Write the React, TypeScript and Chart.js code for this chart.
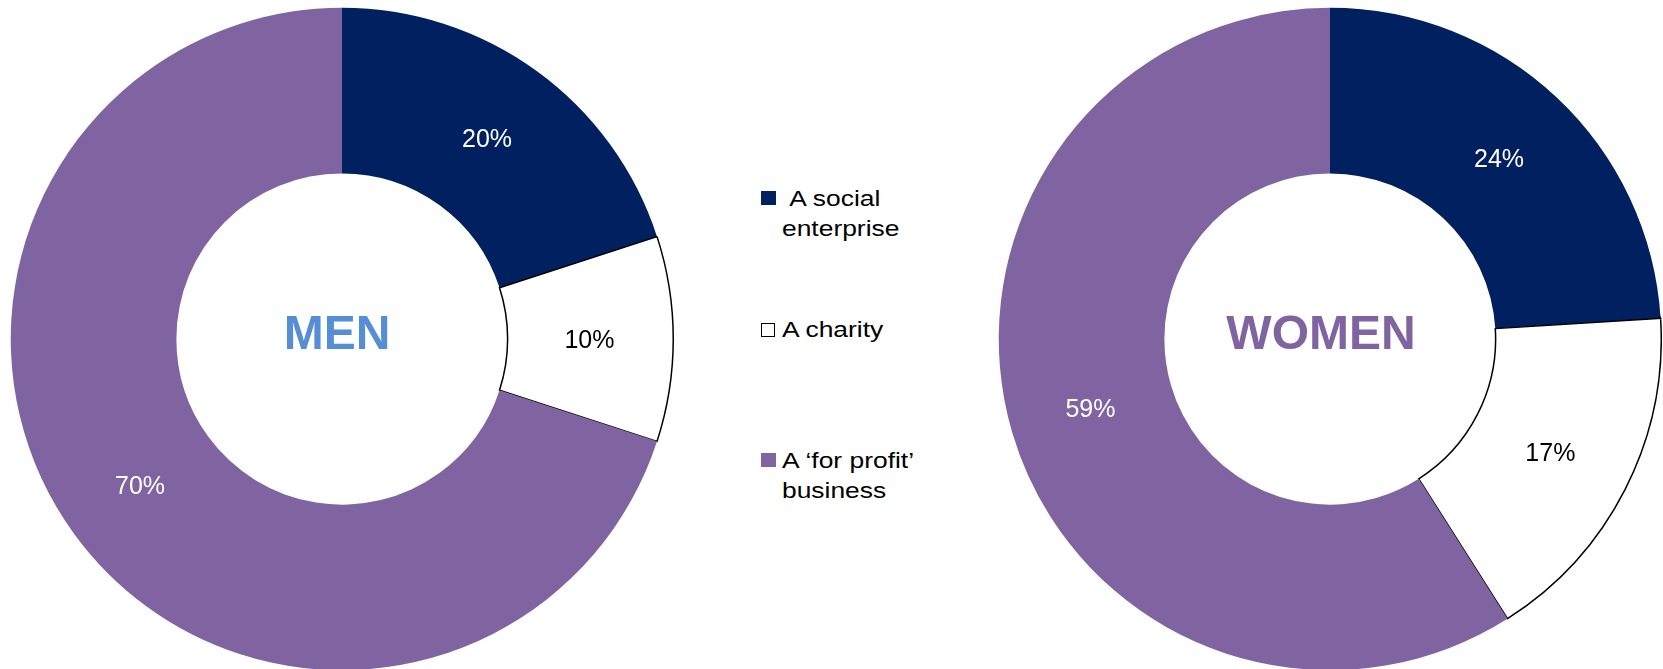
import React, { useEffect, useRef } from "react";
import { Chart, registerables } from "chart.js";

Chart.register(...registerables);

// ---- data ----
const categories = ["A social enterprise", "A charity", "A \u2018for profit\u2019 business"];
const legendLines = [["\u00a0A social", "enterprise"], ["A charity"], ["A \u2018for profit\u2019", "business"]];
const menValues = [20, 10, 70];
const womenValues = [24, 17, 59];
const groupLabels = ["MEN", "WOMEN"];

// ---- styles ----
const sliceColors = ["#002060", "#FFFFFF", "#8064A2"];
const sliceBorderColors = ["#002060", "#000000", "#8064A2"];
const sliceBorderWidths = [0, 1.5, 0];
const labelColors = ["#FFFFFF", "#000000", "#FFFFFF"];
const groupColors = ["#558ED5", "#8064A2"];

const FONT = "'Liberation Sans', Arial, Helvetica, sans-serif";

const donutLabels = {
  id: "donutLabels",
  afterDatasetsDraw(chart: any, _args: any, opts: any) {
    const ctx = chart.ctx;
    const meta = chart.getDatasetMeta(0);
    const ds = chart.data.datasets[0];
    ctx.save();
    ctx.font = `25px ${FONT}`;
    ctx.textAlign = "center";
    ctx.textBaseline = "middle";
    meta.data.forEach((arc: any, i: number) => {
      const p = arc.tooltipPosition();
      ctx.fillStyle = labelColors[i];
      ctx.fillText(`${ds.data[i]}%`, p.x - 1, p.y + 2);
    });
    const first = meta.data[0];
    ctx.font = `bold 48px ${FONT}`;
    ctx.fillStyle = opts.centerColor;
    ctx.fillText(opts.centerText, first.x + (opts.dx || 0), first.y + (opts.dy || 0));
    ctx.restore();
  },
};

function Donut(props: { values: number[]; title: string; color: string; left: number; top: number; dx: number }) {
  const ref = useRef<HTMLCanvasElement | null>(null);
  useEffect(() => {
    if (!ref.current) return;
    const chart = new Chart(ref.current, {
      type: "doughnut",
      data: {
        labels: categories,
        datasets: [
          {
            data: props.values,
            backgroundColor: sliceColors,
            borderColor: sliceBorderColors,
            borderWidth: sliceBorderWidths,
            borderJoinStyle: "miter",
          } as any,
        ],
      },
      options: {
        responsive: false,
        animation: false,
        cutout: "50%",
        layout: { padding: 0 },
        plugins: {
          legend: { display: false },
          tooltip: { enabled: false },
          donutLabels: { centerText: props.title, centerColor: props.color, dx: props.dx, dy: -3 },
        } as any,
      },
      plugins: [donutLabels],
    });
    return () => chart.destroy();
  }, []);
  return (
    <canvas
      ref={ref}
      width={664}
      height={664}
      style={{ position: "absolute", left: props.left, top: props.top, width: 664, height: 664 }}
    />
  );
}

const legendSquareTops = [191, 323, 453];
const legendTextTops = [183.5, 314.5, 445.5];

export default function App() {
  return (
    <div
      style={{
        position: "fixed",
        left: 0,
        top: 0,
        width: 1663,
        height: 669,
        overflow: "hidden",
        background: "#fff",
      }}
    >
      <Donut values={menValues} title={groupLabels[0]} color={groupColors[0]} left={10} top={7} dx={-5} />
      <Donut values={womenValues} title={groupLabels[1]} color={groupColors[1]} left={998} top={7} dx={-9} />
      {categories.map((c, i) => (
        <React.Fragment key={c}>
          <div
            style={{
              position: "absolute",
              left: 761,
              top: legendSquareTops[i],
              width: i === 1 ? 12 : 15,
              height: i === 1 ? 12 : 14,
              background: sliceColors[i],
              border: i === 1 ? "1.5px solid #000" : "none",
            }}
          />
          <div
            style={{
              position: "absolute",
              left: 782,
              top: legendTextTops[i],
              fontFamily: FONT,
              fontSize: 22,
              lineHeight: "30.5px",
              color: "#000",
              whiteSpace: "pre",
              transform: "scaleX(1.2)",
              transformOrigin: "left top",
            }}
          >
            {legendLines[i].map((l, j) => (
              <div key={j}>{l}</div>
            ))}
          </div>
        </React.Fragment>
      ))}
    </div>
  );
}
